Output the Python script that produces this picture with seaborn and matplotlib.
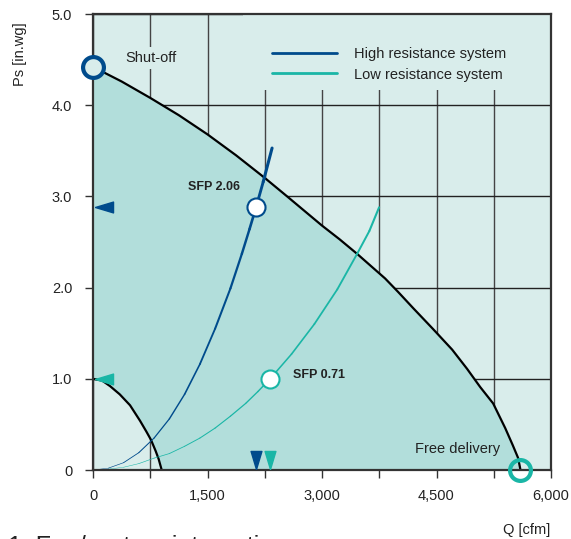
import numpy as np
import matplotlib
matplotlib.use("Agg")
import matplotlib.pyplot as plt
import seaborn as sns
from matplotlib.collections import LineCollection
from matplotlib.lines import Line2D
from matplotlib.patches import Rectangle
from matplotlib.transforms import blended_transform_factory

# ---------------- data ----------------
fan_q = [0, 375, 750, 1125, 1500, 1875, 2254, 2543, 2800, 3000, 3230, 3460, 3650, 3827,
         4000, 4200, 4450, 4705, 4900, 5072, 5242, 5400, 5500, 5570, 5600]
fan_ps = [4.42, 4.26, 4.08, 3.89, 3.68, 3.45, 3.20, 3.00, 2.82, 2.68, 2.53, 2.37, 2.23, 2.10,
          1.95, 1.77, 1.55, 1.32, 1.11, 0.91, 0.73, 0.46, 0.27, 0.13, 0.0]

min_q = [0, 120, 223, 350, 485, 616, 700, 760, 820, 860, 900]
min_ps = [1.0, 0.98, 0.92, 0.83, 0.71, 0.54, 0.42, 0.33, 0.21, 0.12, 0.0]

high_q = [0, 200, 400, 600, 800, 1000, 1200, 1400, 1600, 1800, 1950, 2050, 2136, 2230, 2346]
high_ps = [0, 0.02, 0.08, 0.19, 0.35, 0.56, 0.83, 1.16, 1.55, 1.99, 2.37, 2.64, 2.88, 3.16, 3.53]

low_q = [0, 200, 400, 600, 800, 1000, 1200, 1400, 1600, 1800, 2000, 2160, 2320, 2600,
         2900, 3200, 3460, 3620, 3748]
low_ps = [0, 0.01, 0.03, 0.07, 0.13, 0.18, 0.26, 0.35, 0.46, 0.59, 0.73, 0.86, 1.0, 1.27,
          1.60, 1.98, 2.37, 2.62, 2.88]

op_high = (2136, 2.88)
op_low = (2320, 1.0)
sfp_labels = ["SFP 2.06", "SFP 0.71"]
series_names = ["High resistance system", "Low resistance system"]

x_ticks = [0, 1500, 3000, 4500, 6000]
x_ticklabels = ["0", "1,500", "3,000", "4,500", "6,000"]
x_minor = [750, 2250, 3750, 5250]
y_ticks = [0, 1, 2, 3, 4, 5]
y_ticklabels = ["0", "1.0", "2.0", "3.0", "4.0", "5.0"]

# ---------------- style ----------------
BG = "#d9edeb"
FILL = "#b2dedb"
BLUE = "#004b8c"
TEAL = "#1ab6a6"
DARK = "#333333"

sns.set_theme(style="white")
plt.rcParams["font.family"] = ["Liberation Sans", "DejaVu Sans"]

fig = plt.figure(figsize=(5.71, 5.39), dpi=100)
ax = fig.add_axes([93 / 571, 1 - 470 / 539, 458 / 571, 456 / 539])
ax.set_facecolor(BG)

ax.set_xlim(0, 6000)
ax.set_ylim(0, 5)
ax.set_xticks(x_ticks)
ax.set_xticklabels(x_ticklabels)
ax.set_xticks(x_minor, minor=True)
ax.set_yticks(y_ticks)
ax.set_yticklabels(y_ticklabels)
ax.tick_params(axis="both", which="both", direction="out", length=6, width=1,
               color=DARK, labelsize=10.5, labelcolor="#222222", pad=9,
               bottom=True, left=True)
ax.tick_params(axis="x", pad=8)

ax.set_axisbelow(True)
ax.grid(True, which="both", axis="x", color="#444444", lw=1)
ax.grid(True, which="major", axis="y", color="#222222", lw=1)

for s in ax.spines.values():
    s.set_color(DARK)
    s.set_linewidth(1.6)
    s.set_zorder(6)

# legend background panel (hides grid behind legend)
ax.add_patch(Rectangle(((243 - 93) / 458, (470 - 90) / 456), 1 - (243 - 93) / 458,
                       1 - (470 - 90) / 456, transform=ax.transAxes, facecolor=BG,
                       edgecolor="none", zorder=2))

# operating region fill (between min curve and fan curve)
poly_q = list(fan_q) + list(min_q[::-1])
poly_ps = list(fan_ps) + list(min_ps[::-1])
ax.fill(poly_q, poly_ps, color=FILL, zorder=1, lw=0)

# fan curves
sns.lineplot(x=fan_q, y=fan_ps, ax=ax, color="black", lw=1.6, sort=False, zorder=3)
sns.lineplot(x=min_q, y=min_ps, ax=ax, color="black", lw=1.6, sort=False, zorder=3)


def tapered(qs, ps, color, w0, w1):
    pts = np.column_stack([qs, ps])
    segs = np.stack([pts[:-1], pts[1:]], axis=1)
    widths = np.linspace(w0, w1, len(segs))
    lc = LineCollection(segs, colors=color, linewidths=widths, capstyle="round",
                        joinstyle="round", zorder=4)
    ax.add_collection(lc)


tapered(high_q, high_ps, BLUE, 0.3, 2.2)
tapered(low_q, low_ps, TEAL, 0.2, 1.5)

# operating points
ax.plot(*op_high, marker="o", ms=13, mfc="white", mec=BLUE, mew=1.5, zorder=7, ls="none")
ax.plot(*op_low, marker="o", ms=13, mfc="white", mec=TEAL, mew=1.5, zorder=7, ls="none")

# shut-off & free delivery rings
ax.plot(fan_q[0], fan_ps[0], marker="o", ms=15, mfc=BG, mec=BLUE, mew=3, zorder=8,
        clip_on=False, ls="none")
ax.plot(fan_q[-1], fan_ps[-1], marker="o", ms=15, mfc="none", mec=TEAL, mew=3, zorder=8,
        clip_on=False, ls="none")

# triangle indicators
left_tri = [(-1, 0), (1, 0.6), (1, -0.6), (-1, 0)]
down_tri = [(0, -1), (-0.6, 1), (0.6, 1), (0, -1)]
tr_y = blended_transform_factory(ax.transAxes, ax.transData)
tr_x = blended_transform_factory(ax.transData, ax.transAxes)
ax.plot(0.025, op_high[1], marker=left_tri, ms=13, color=BLUE, transform=tr_y, zorder=7, ls="none")
ax.plot(0.025, op_low[1], marker=left_tri, ms=13, color=TEAL, transform=tr_y, zorder=7, ls="none")
ax.plot(op_high[0], 0.022, marker=down_tri, ms=13, color=BLUE, transform=tr_x, zorder=7, ls="none")
ax.plot(op_low[0], 0.022, marker=down_tri, ms=13, color=TEAL, transform=tr_x, zorder=7, ls="none")

# annotations
ax.text(420, 4.52, "Shut-off", fontsize=10.5, color="#222222", va="center", ha="left",
        bbox=dict(facecolor=BG, edgecolor="none", pad=3), zorder=5)
ax.text(5334, 0.23, "Free delivery", fontsize=10.5, color="#222222", va="center", ha="right", zorder=5)
ax.text(1927, 3.10, sfp_labels[0], fontsize=9, fontweight="bold", color="#222222",
        va="center", ha="right", zorder=5)
ax.text(2621, 1.04, sfp_labels[1], fontsize=9, fontweight="bold", color="#222222",
        va="center", ha="left", zorder=5)

# legend
handles = [Line2D([], [], color=BLUE, lw=2), Line2D([], [], color=TEAL, lw=2)]
leg = ax.legend(handles, series_names, loc="upper left",
                bbox_to_anchor=((272 - 93) / 458, (470 - 47) / 456),
                frameon=False, fontsize=10.5, handlelength=4.45, handletextpad=1.2,
                labelspacing=0.45, borderpad=0, borderaxespad=0)
leg.set_zorder(5)
for t in leg.get_texts():
    t.set_color("#222222")

# axis labels
fig.text(20 / 571, 1 - 54 / 539, "Ps [in.wg]", rotation=90, fontsize=10.5, color="#222222",
         ha="center", va="center")
fig.text(527 / 571, 1 - 530 / 539, "Q [cfm]", fontsize=10.5, color="#222222",
         ha="center", va="center")

# cropped caption at bottom
fig.text(8 / 571, -15 / 539, "1. Fan/system interaction", fontsize=18, color="#222222",
         ha="left", va="baseline")

fig.savefig("out.png", dpi=100)
